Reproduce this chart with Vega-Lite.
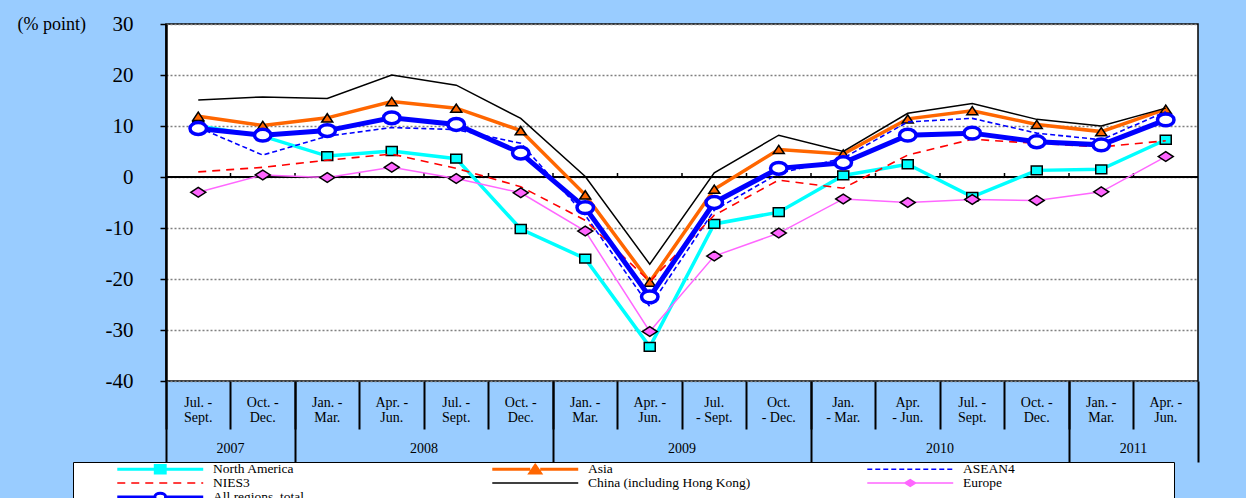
{
  "$schema": "https://vega.github.io/schema/vega-lite/v6.json",
  "autosize": "none",
  "width": 1032,
  "height": 357,
  "padding": {"left": 166, "top": 24, "right": 48, "bottom": 117},
  "background": "#99CCFF",
  "title": {
    "text": "Trends in local employment (by region)",
    "anchor": "end",
    "frame": "group",
    "dx": -208,
    "offset": 13,
    "baseline": "alphabetic",
    "font": "Liberation Serif",
    "fontSize": 21,
    "fontWeight": "bold",
    "color": "black"
  },
  "config": {
    "font": "Liberation Serif",
    "view": {"fill": "white", "stroke": "black", "strokeWidth": 1.5},
    "axis": {"labelColor": "black", "titleColor": "black", "labelFont": "Liberation Serif", "titleFont": "Liberation Serif"}
  },
  "datasets": {
    "na": [
      {"q": "2007|Jul. -|Sept.", "v": 10.0}, {"q": "2007|Oct. -|Dec.", "v": 8.0},
      {"q": "2008|Jan. -|Mar.", "v": 4.1}, {"q": "2008|Apr. -|Jun.", "v": 5.1},
      {"q": "2008|Jul. -|Sept.", "v": 3.6}, {"q": "2008|Oct. -|Dec.", "v": -10.2},
      {"q": "2009|Jan. -|Mar.", "v": -16.0}, {"q": "2009|Apr. -|Jun.", "v": -33.3},
      {"q": "2009|Jul.|- Sept.", "v": -9.2}, {"q": "2009|Oct.|- Dec.", "v": -6.9},
      {"q": "2010|Jan.|- Mar.", "v": 0.3}, {"q": "2010|Apr.|- Jun.", "v": 2.5},
      {"q": "2010|Jul. -|Sept.", "v": -3.9}, {"q": "2010|Oct. -|Dec.", "v": 1.3},
      {"q": "2011|Jan. -|Mar.", "v": 1.5}, {"q": "2011|Apr. -|Jun.", "v": 7.3}
    ],
    "asia": [
      {"q": "2007|Jul. -|Sept.", "v": 11.9}, {"q": "2007|Oct. -|Dec.", "v": 10.1},
      {"q": "2008|Jan. -|Mar.", "v": 11.6}, {"q": "2008|Apr. -|Jun.", "v": 14.8},
      {"q": "2008|Jul. -|Sept.", "v": 13.5}, {"q": "2008|Oct. -|Dec.", "v": 9.1},
      {"q": "2009|Jan. -|Mar.", "v": -3.5}, {"q": "2009|Apr. -|Jun.", "v": -20.6},
      {"q": "2009|Jul.|- Sept.", "v": -2.4}, {"q": "2009|Oct.|- Dec.", "v": 5.4},
      {"q": "2010|Jan.|- Mar.", "v": 4.5}, {"q": "2010|Apr.|- Jun.", "v": 11.4},
      {"q": "2010|Jul. -|Sept.", "v": 13.0}, {"q": "2010|Oct. -|Dec.", "v": 10.3},
      {"q": "2011|Jan. -|Mar.", "v": 8.9}, {"q": "2011|Apr. -|Jun.", "v": 13.3}
    ],
    "asean4": [
      {"q": "2007|Jul. -|Sept.", "v": 9.7}, {"q": "2007|Oct. -|Dec.", "v": 4.3},
      {"q": "2008|Jan. -|Mar.", "v": 8.0}, {"q": "2008|Apr. -|Jun.", "v": 9.7},
      {"q": "2008|Jul. -|Sept.", "v": 9.3}, {"q": "2008|Oct. -|Dec.", "v": 6.6},
      {"q": "2009|Jan. -|Mar.", "v": -7.5}, {"q": "2009|Apr. -|Jun.", "v": -25.4},
      {"q": "2009|Jul.|- Sept.", "v": -6.5}, {"q": "2009|Oct.|- Dec.", "v": 0.7},
      {"q": "2010|Jan.|- Mar.", "v": 3.7}, {"q": "2010|Apr.|- Jun.", "v": 10.8},
      {"q": "2010|Jul. -|Sept.", "v": 11.5}, {"q": "2010|Oct. -|Dec.", "v": 8.6},
      {"q": "2011|Jan. -|Mar.", "v": 7.3}, {"q": "2011|Apr. -|Jun.", "v": 12.8}
    ],
    "nies3": [
      {"q": "2007|Jul. -|Sept.", "v": 1.0}, {"q": "2007|Oct. -|Dec.", "v": 1.9},
      {"q": "2008|Jan. -|Mar.", "v": 3.3}, {"q": "2008|Apr. -|Jun.", "v": 4.5},
      {"q": "2008|Jul. -|Sept.", "v": 1.7}, {"q": "2008|Oct. -|Dec.", "v": -1.9},
      {"q": "2009|Jan. -|Mar.", "v": -8.5}, {"q": "2009|Apr. -|Jun.", "v": -20.5},
      {"q": "2009|Jul.|- Sept.", "v": -7.5}, {"q": "2009|Oct.|- Dec.", "v": -0.6},
      {"q": "2010|Jan.|- Mar.", "v": -2.2}, {"q": "2010|Apr.|- Jun.", "v": 4.3},
      {"q": "2010|Jul. -|Sept.", "v": 7.4}, {"q": "2010|Oct. -|Dec.", "v": 6.6},
      {"q": "2011|Jan. -|Mar.", "v": 5.9}, {"q": "2011|Apr. -|Jun.", "v": 7.1}
    ],
    "china": [
      {"q": "2007|Jul. -|Sept.", "v": 15.1}, {"q": "2007|Oct. -|Dec.", "v": 15.7},
      {"q": "2008|Jan. -|Mar.", "v": 15.4}, {"q": "2008|Apr. -|Jun.", "v": 20.0},
      {"q": "2008|Jul. -|Sept.", "v": 18.0}, {"q": "2008|Oct. -|Dec.", "v": 11.5},
      {"q": "2009|Jan. -|Mar.", "v": 0.1}, {"q": "2009|Apr. -|Jun.", "v": -17.1},
      {"q": "2009|Jul.|- Sept.", "v": 0.8}, {"q": "2009|Oct.|- Dec.", "v": 8.2},
      {"q": "2010|Jan.|- Mar.", "v": 5.0}, {"q": "2010|Apr.|- Jun.", "v": 12.5},
      {"q": "2010|Jul. -|Sept.", "v": 14.4}, {"q": "2010|Oct. -|Dec.", "v": 11.3},
      {"q": "2011|Jan. -|Mar.", "v": 10.0}, {"q": "2011|Apr. -|Jun.", "v": 13.5}
    ],
    "europe": [
      {"q": "2007|Jul. -|Sept.", "v": -3.0}, {"q": "2007|Oct. -|Dec.", "v": 0.4},
      {"q": "2008|Jan. -|Mar.", "v": -0.1}, {"q": "2008|Apr. -|Jun.", "v": 1.9},
      {"q": "2008|Jul. -|Sept.", "v": -0.3}, {"q": "2008|Oct. -|Dec.", "v": -3.1},
      {"q": "2009|Jan. -|Mar.", "v": -10.6}, {"q": "2009|Apr. -|Jun.", "v": -30.3},
      {"q": "2009|Jul.|- Sept.", "v": -15.5}, {"q": "2009|Oct.|- Dec.", "v": -11.0},
      {"q": "2010|Jan.|- Mar.", "v": -4.3}, {"q": "2010|Apr.|- Jun.", "v": -5.0},
      {"q": "2010|Jul. -|Sept.", "v": -4.4}, {"q": "2010|Oct. -|Dec.", "v": -4.6},
      {"q": "2011|Jan. -|Mar.", "v": -2.9}, {"q": "2011|Apr. -|Jun.", "v": 4.0}
    ],
    "total": [
      {"q": "2007|Jul. -|Sept.", "v": 9.5}, {"q": "2007|Oct. -|Dec.", "v": 8.2},
      {"q": "2008|Jan. -|Mar.", "v": 9.1}, {"q": "2008|Apr. -|Jun.", "v": 11.6},
      {"q": "2008|Jul. -|Sept.", "v": 10.3}, {"q": "2008|Oct. -|Dec.", "v": 4.7},
      {"q": "2009|Jan. -|Mar.", "v": -6.0}, {"q": "2009|Apr. -|Jun.", "v": -23.5},
      {"q": "2009|Jul.|- Sept.", "v": -5.0}, {"q": "2009|Oct.|- Dec.", "v": 1.7},
      {"q": "2010|Jan.|- Mar.", "v": 2.8}, {"q": "2010|Apr.|- Jun.", "v": 8.2},
      {"q": "2010|Jul. -|Sept.", "v": 8.6}, {"q": "2010|Oct. -|Dec.", "v": 6.9},
      {"q": "2011|Jan. -|Mar.", "v": 6.3}, {"q": "2011|Apr. -|Jun.", "v": 11.2}
    ]
  },
  "resolve": {"axis": {"x": "independent"}},
  "layer": [
    {
      "data": {"values": [{}]},
      "mark": {"type": "rule", "color": "black", "strokeWidth": 2},
      "encoding": {"y": {"datum": 0, "type": "quantitative"}}
    },
    {
      "data": {"name": "china"},
      "mark": {"type": "tick", "orient": "vertical", "color": "black", "thickness": 1.5, "size": 4, "yOffset": -2, "opacity": 1},
      "encoding": {
        "x": {"field": "q", "type": "ordinal", "bandPosition": 0, "axis": null},
        "y": {"datum": 0, "type": "quantitative"}
      }
    },
    {
      "data": {"name": "na"},
      "mark": {"type": "line", "strokeWidth": 3.5},
      "encoding": {
        "x": {
          "field": "q", "type": "ordinal", "bandPosition": 0.5,
          "scale": {
            "type": "band", "paddingInner": 0, "paddingOuter": 0,
            "domain": ["2007|Jul. -|Sept.", "2007|Oct. -|Dec.", "2008|Jan. -|Mar.", "2008|Apr. -|Jun.", "2008|Jul. -|Sept.", "2008|Oct. -|Dec.", "2009|Jan. -|Mar.", "2009|Apr. -|Jun.", "2009|Jul.|- Sept.", "2009|Oct.|- Dec.", "2010|Jan.|- Mar.", "2010|Apr.|- Jun.", "2010|Jul. -|Sept.", "2010|Oct. -|Dec.", "2011|Jan. -|Mar.", "2011|Apr. -|Jun."]
          },
          "axis": {
            "orient": "bottom", "bandPosition": 0, "domain": false, "grid": false,
            "ticks": true, "tickSize": 48, "tickWidth": 2, "tickColor": "black",
            "labelExpr": "slice(split(datum.value, '|'), 1)",
            "labelOffset": 0, "labelPadding": -34, "labelBaseline": "top",
            "labelAngle": 0, "labelAlign": "center", "labelFontSize": 14, "labelLineHeight": 15,
            "labelFont": "Liberation Serif",
            "labelOverlap": false, "labelBound": false, "labelFlush": false, "title": null
          }
        },
        "y": {
          "field": "v", "type": "quantitative",
          "scale": {"domain": [-40, 30], "nice": false, "zero": false},
          "axis": {
            "values": [-40, -30, -20, -10, 0, 10, 20, 30],
            "labelExpr": "toString(datum.value)",
            "domain": true, "domainColor": "black", "domainWidth": 2.5,
            "ticks": true, "tickSize": 6, "tickWidth": 1.5, "tickColor": "black",
            "labelFont": "Liberation Serif", "labelFontSize": 21, "labelPadding": 27,
            "grid": true, "gridDash": [2, 2], "gridColor": "#808080", "gridWidth": 1.5,
            "title": "(% point)", "titleAngle": 0, "titleX": -149, "titleY": 5,
            "titleAlign": "left", "titleBaseline": "alphabetic",
            "titleFont": "Liberation Serif", "titleFontSize": 18, "titleFontWeight": "normal"
          }
        },
        "color": {
          "datum": "North America", "type": "nominal",
          "scale": {
            "domain": ["North America", "Asia", "ASEAN4", "NIES3", "China (including Hong Kong)", "Europe", "All regions, total"],
            "range": ["#00FFFF", "#FF6600", "#0000FF", "#FF0000", "#000000", "#FF66FF", "#0000FF"]
          },
          "legend": {
            "orient": "none", "legendX": -93, "legendY": 438,
            "direction": "horizontal", "columns": 3,
            "title": " ", "titleOrient": "right", "titlePadding": 158, "titleFontSize": 4, "titleAnchor": "start",
            "symbolSize": 81, "symbolOffset": 79.5, "labelOffset": 46,
            "gridAlign": "all", "columnPadding": 73, "rowPadding": 0, "padding": 1,
            "clipHeight": 12,
            "fillColor": "white", "strokeColor": "black",
            "labelFont": "Liberation Serif", "labelFontSize": 13.5, "labelColor": "black", "labelLimit": 400,
            "symbolType": {"expr": "datum.value === 'North America' ? 'M-9.55,0H-1.1M1.1,0H9.55M-1.1,-0.85H1.1V0.85H-1.1Z' : datum.value === 'Asia' ? 'M-9.55,0H-1.1M1.1,0H9.55M-1.15,0.85L0,-0.85L1.15,0.85Z' : datum.value === 'Europe' ? 'M-9.55,0H-1.2M1.2,0H9.55M-1.2,0L0,-0.75L1.2,0L0,0.75Z' : datum.value === 'All regions, total' ? 'M-9.55,0H-1.2M1.2,0H9.55M-1.2,0A1.2,0.85,0,1,0,1.2,0A1.2,0.85,0,1,0,-1.2,0Z' : 'M-9.55,0H9.55'"},
            "symbolFillColor": {"expr": "datum.value === 'North America' ? '#00FFFF' : datum.value === 'Asia' ? '#FF6600' : datum.value === 'Europe' ? '#FF66FF' : datum.value === 'All regions, total' ? 'white' : 'transparent'"},
            "symbolDash": {"expr": "datum.value === 'ASEAN4' ? [5, 3] : datum.value === 'NIES3' ? [8, 6] : []"},
            "symbolStrokeWidth": {"expr": "indexof(['North America', 'Asia', 'All regions, total'], datum.value) >= 0 ? 3 : 1.5"},
            "symbolOpacity": 1
          }
        }
      }
    },
    {
      "data": {"name": "na"},
      "mark": {"type": "point", "shape": "M-1,-0.8H1V0.8H-1Z", "size": 121, "filled": true, "fill": "#00FFFF", "stroke": "black", "strokeWidth": 1.5, "opacity": 1},
      "encoding": {
        "x": {"field": "q", "type": "ordinal", "bandPosition": 0.5, "axis": null},
        "y": {"field": "v", "type": "quantitative"}
      }
    },
    {
      "data": {"name": "asia"},
      "mark": {"type": "line", "strokeWidth": 3.5},
      "encoding": {
        "x": {
          "field": "q", "type": "ordinal", "bandPosition": 0.5,
          "axis": {
            "orient": "bottom", "bandPosition": 0,
            "values": ["2007|Jul. -|Sept.", "2008|Jan. -|Mar.", "2009|Jan. -|Mar.", "2010|Jan.|- Mar.", "2011|Jan. -|Mar."],
            "domain": false, "labels": false, "grid": false,
            "tickSize": 81, "tickWidth": 2, "tickColor": "black", "title": null
          }
        },
        "y": {"field": "v", "type": "quantitative"},
        "color": {"datum": "Asia", "type": "nominal"}
      }
    },
    {
      "data": {"name": "asia"},
      "mark": {"type": "point", "shape": "M-1,0.75L0,-0.75L1,0.75Z", "size": 121, "filled": true, "fill": "#FF6600", "stroke": "black", "strokeWidth": 1.5, "opacity": 1},
      "encoding": {
        "x": {"field": "q", "type": "ordinal", "bandPosition": 0.5, "axis": null},
        "y": {"field": "v", "type": "quantitative"}
      }
    },
    {
      "data": {"name": "asean4"},
      "mark": {"type": "line", "strokeWidth": 1.6, "strokeDash": [5, 3]},
      "encoding": {
        "x": {
          "field": "q", "type": "ordinal", "bandPosition": 0.5,
          "axis": {
            "orient": "bottom", "bandPosition": 0,
            "values": ["2007|Oct. -|Dec.", "2008|Jul. -|Sept.", "2009|Jul.|- Sept.", "2010|Jul. -|Sept.", "2011|Apr. -|Jun."],
            "domain": false, "ticks": false, "grid": false,
            "labelExpr": "split(datum.value, '|')[0]",
            "labelOffset": -32.25, "labelPadding": 60, "labelBaseline": "top", "labelAngle": 0, "labelAlign": "center",
            "labelFont": "Liberation Serif", "labelFontSize": 14,
            "labelOverlap": false, "labelBound": false, "labelFlush": false, "title": null
          }
        },
        "y": {"field": "v", "type": "quantitative"},
        "color": {"datum": "ASEAN4", "type": "nominal"}
      }
    },
    {
      "data": {"name": "nies3"},
      "mark": {"type": "line", "strokeWidth": 1.6, "strokeDash": [8, 6]},
      "encoding": {
        "x": {
          "field": "q", "type": "ordinal", "bandPosition": 0.5,
          "axis": {
            "orient": "bottom", "bandPosition": 1,
            "values": ["2011|Apr. -|Jun."],
            "domain": false, "labels": false, "grid": false,
            "tickSize": 81, "tickWidth": 2, "tickColor": "black", "title": null
          }
        },
        "y": {"field": "v", "type": "quantitative"},
        "color": {"datum": "NIES3", "type": "nominal"}
      }
    },
    {
      "data": {"name": "china"},
      "mark": {"type": "line", "strokeWidth": 1.5},
      "encoding": {
        "x": {"field": "q", "type": "ordinal", "bandPosition": 0.5, "axis": null},
        "y": {"field": "v", "type": "quantitative"},
        "color": {"datum": "China (including Hong Kong)", "type": "nominal"}
      }
    },
    {
      "data": {"name": "europe"},
      "mark": {"type": "line", "strokeWidth": 1.5},
      "encoding": {
        "x": {"field": "q", "type": "ordinal", "bandPosition": 0.5, "axis": null},
        "y": {"field": "v", "type": "quantitative"},
        "color": {"datum": "Europe", "type": "nominal"}
      }
    },
    {
      "data": {"name": "europe"},
      "mark": {"type": "point", "shape": "M-1,0L0,-0.65L1,0L0,0.65Z", "size": 225, "filled": true, "fill": "#FF66FF", "stroke": "black", "strokeWidth": 1.5, "opacity": 1},
      "encoding": {
        "x": {"field": "q", "type": "ordinal", "bandPosition": 0.5, "axis": null},
        "y": {"field": "v", "type": "quantitative"}
      }
    },
    {
      "data": {"name": "total"},
      "mark": {"type": "line", "strokeWidth": 5},
      "encoding": {
        "x": {"field": "q", "type": "ordinal", "bandPosition": 0.5, "axis": null},
        "y": {"field": "v", "type": "quantitative"},
        "color": {"datum": "All regions, total", "type": "nominal"}
      }
    },
    {
      "data": {"name": "total"},
      "mark": {"type": "point", "shape": "M-1,0A1,0.72,0,1,0,1,0A1,0.72,0,1,0,-1,0Z", "size": 272, "filled": true, "fill": "white", "stroke": "#0000FF", "strokeWidth": 3.5, "opacity": 1},
      "encoding": {
        "x": {"field": "q", "type": "ordinal", "bandPosition": 0.5, "axis": null},
        "y": {"field": "v", "type": "quantitative"}
      }
    }
  ]
}
